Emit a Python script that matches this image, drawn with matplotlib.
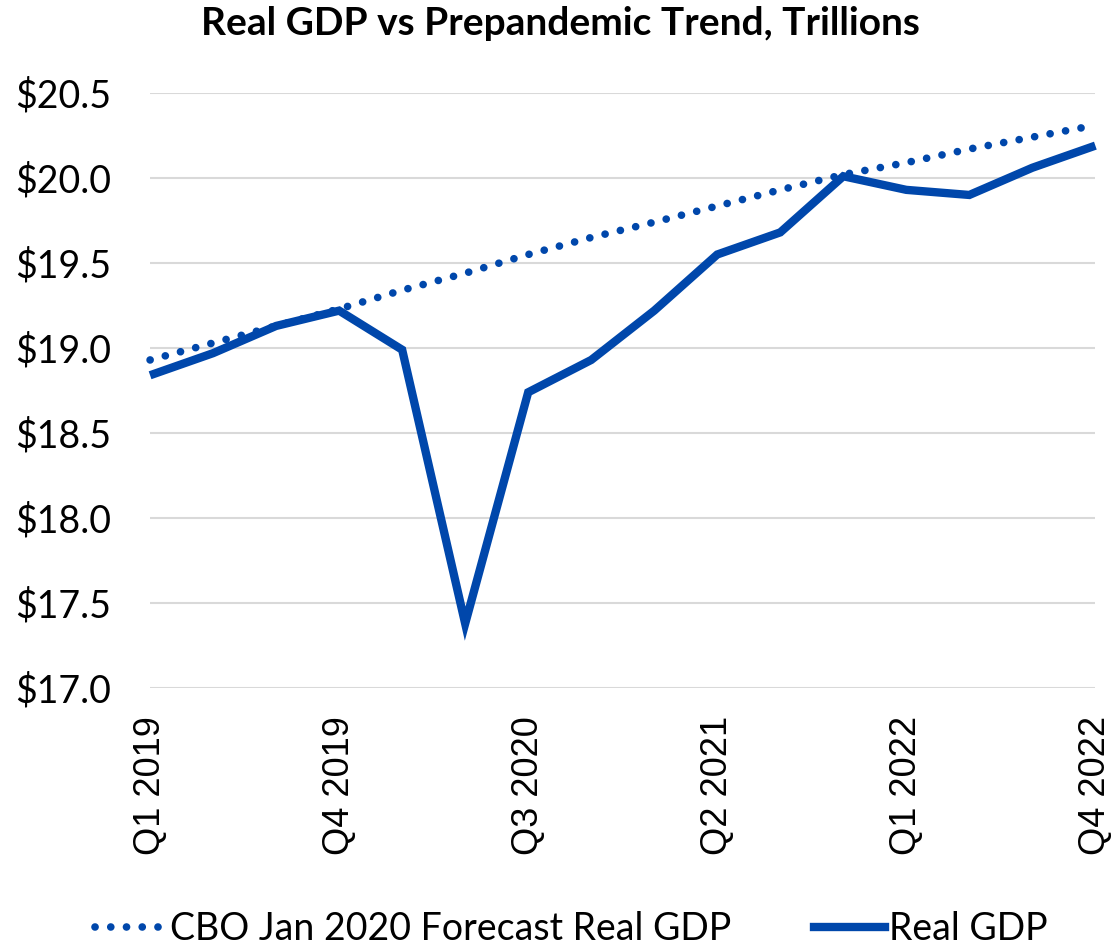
import matplotlib
import matplotlib.pyplot as plt
from matplotlib.lines import Line2D

matplotlib.use("Agg")

# Quarterly real GDP, trillions of dollars, Q1 2019 .. Q4 2022
quarters = [
    "Q1 2019", "Q2 2019", "Q3 2019", "Q4 2019",
    "Q1 2020", "Q2 2020", "Q3 2020", "Q4 2020",
    "Q1 2021", "Q2 2021", "Q3 2021", "Q4 2021",
    "Q1 2022", "Q2 2022", "Q3 2022", "Q4 2022",
]
real_gdp = [18.84, 18.97, 19.13, 19.22, 18.99, 17.38, 18.74, 18.93,
            19.22, 19.55, 19.68, 20.01, 19.93, 19.90, 20.06, 20.19]
cbo_forecast = [18.93, 19.03, 19.13, 19.23, 19.34, 19.44, 19.55, 19.65,
                19.74, 19.835, 19.93, 20.02, 20.09, 20.17, 20.24, 20.31]
y_ticks = [17.0, 17.5, 18.0, 18.5, 19.0, 19.5, 20.0, 20.5]

BLUE = "#0047AB"
GRID = "#D9D9D9"
FONT = "Lato"
DOTTED = (0, (0.01, 2.05))

fig = plt.figure(figsize=(11.2, 9.48), dpi=100)
ax = fig.add_axes([0.134, 0.274, 0.844, 0.628])

x = list(range(len(quarters)))
ax.plot(x, cbo_forecast, color=BLUE, linewidth=5.5, linestyle=DOTTED,
        dash_capstyle="round", clip_on=False, zorder=3)
ax.plot(x, real_gdp, color=BLUE, linewidth=6, solid_joinstyle="miter",
        solid_capstyle="butt", clip_on=False, zorder=4)

ax.set_xlim(0, len(quarters) - 1)
ax.set_ylim(17.0, 20.5)
ax.set_yticks(y_ticks)
ax.set_yticklabels([f"${v:.1f}" for v in y_ticks], fontsize=27, family=FONT)
ax.set_xticks(x[::3])
ax.set_xticklabels(quarters[::3], rotation=90, fontsize=26,
                   family="Liberation Sans", va="top")

ax.tick_params(axis="y", length=0, pad=28)
ax.tick_params(axis="x", length=0, pad=20)
for spine in ax.spines.values():
    spine.set_visible(False)
ax.yaxis.grid(True, color=GRID, linewidth=1.5)
ax.set_axisbelow(True)

fig.text(0.5, 0.975, "Real GDP vs Prepandemic Trend, Trillions", ha="center",
         va="center", fontsize=28, fontweight="bold", family=FONT)

handles = [
    Line2D([], [], color=BLUE, linewidth=5.5, linestyle=DOTTED,
           dash_capstyle="round"),
    Line2D([], [], color=BLUE, linewidth=6),
]
fig.legend(handles, ["CBO Jan 2020 Forecast Real GDP", "Real GDP"],
           loc="center", bbox_to_anchor=(0.51, 0.02), ncol=2, frameon=False,
           prop={"family": FONT, "size": 27}, handlelength=1.9,
           handletextpad=0.1, columnspacing=2.2)

fig.savefig("out.png", dpi=100, facecolor="white")
